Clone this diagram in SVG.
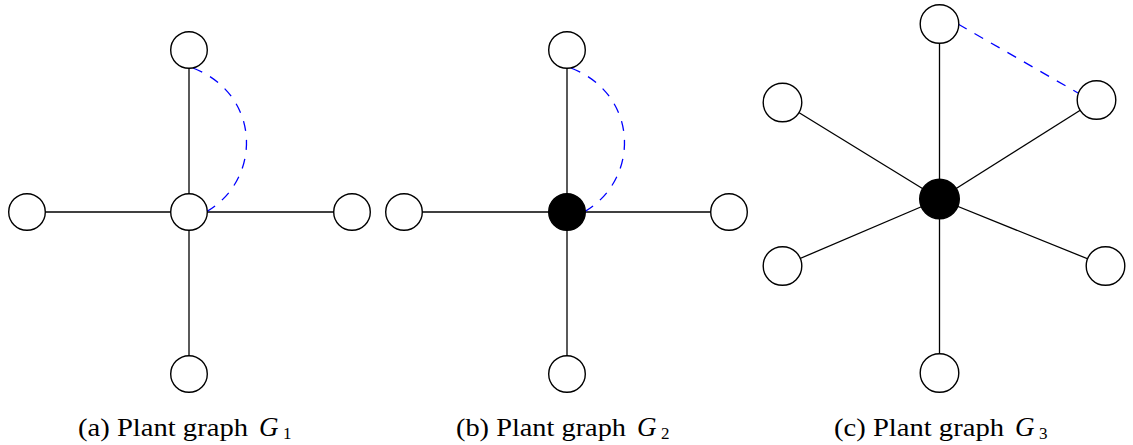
<svg xmlns="http://www.w3.org/2000/svg" width="1133" height="445" viewBox="0 0 1133 445">
<style>
.edge{stroke:#000;stroke-width:1.3;fill:none}
.dash{stroke:#0000ff;stroke-width:1.3;fill:none;stroke-dasharray:10 9}
.node{fill:#fff;stroke:#000;stroke-width:1.4}
.hub{fill:#000;stroke:#000;stroke-width:1.4}
.cap{font-family:"Liberation Serif",serif;font-size:26px;fill:#000}
.it{font-style:italic;font-size:27px}
.sub{font-size:17px}
</style>
<g id="connectors">
  <!-- (a) -->
  <line class="edge" x1="189" y1="50" x2="189" y2="374"/>
  <line class="edge" x1="27" y1="212" x2="352" y2="212"/>
  <path class="dash" d="M193,68 C262,95 262,180 206,212"/>
  <!-- (b) -->
  <line class="edge" x1="567" y1="50" x2="567" y2="374"/>
  <line class="edge" x1="404" y1="212" x2="729" y2="212"/>
  <path class="dash" d="M571,68 C640,95 640,180 584,212"/>
  <!-- (c) -->
  <line class="edge" x1="939.5" y1="24" x2="939.5" y2="373"/>
  <line class="edge" x1="939.5" y1="199" x2="782.5" y2="102.5"/>
  <line class="edge" x1="939.5" y1="199" x2="1096.5" y2="100"/>
  <line class="edge" x1="939.5" y1="199" x2="782.5" y2="266"/>
  <line class="edge" x1="939.5" y1="199" x2="1105.5" y2="266"/>
  <path class="dash" d="M958,24 L1078,93"/>
</g>
<g id="graph-a">
  <circle id="a-top" class="node" cx="189" cy="50" r="18.3"/>
  <circle id="a-left" class="node" cx="27" cy="212" r="18.3"/>
  <circle id="a-center" class="node" cx="189" cy="212" r="18.3"/>
  <circle id="a-right" class="node" cx="352" cy="212" r="18.3"/>
  <circle id="a-bottom" class="node" cx="189" cy="374" r="18.3"/>
</g>
<g id="graph-b">
  <circle id="b-top" class="node" cx="567" cy="50" r="18.3"/>
  <circle id="b-left" class="node" cx="404" cy="212" r="18.3"/>
  <circle id="b-center" class="hub" cx="567" cy="212" r="18.3"/>
  <circle id="b-right" class="node" cx="729" cy="212" r="18.3"/>
  <circle id="b-bottom" class="node" cx="567" cy="374" r="18.3"/>
</g>
<g id="graph-c">
  <circle id="c-top" class="node" cx="939.5" cy="24" r="19.3"/>
  <circle id="c-ul" class="node" cx="782.5" cy="102.5" r="19.3"/>
  <circle id="c-ur" class="node" cx="1096.5" cy="100" r="19.3"/>
  <circle id="c-center" class="hub" cx="939.5" cy="199" r="19.8"/>
  <circle id="c-ll" class="node" cx="782.5" cy="266" r="19.3"/>
  <circle id="c-lr" class="node" cx="1105.5" cy="266" r="19.3"/>
  <circle id="c-bottom" class="node" cx="939.5" cy="373" r="19.3"/>
</g>
<g id="captions">
  <text class="cap" x="78" y="436" textLength="170" lengthAdjust="spacingAndGlyphs">(a) Plant graph</text>
  <text class="cap it" x="259" y="436">G</text>
  <text class="cap sub" x="283" y="439">1</text>
  <text class="cap" x="456" y="436" textLength="170" lengthAdjust="spacingAndGlyphs">(b) Plant graph</text>
  <text class="cap it" x="637" y="436">G</text>
  <text class="cap sub" x="661" y="439">2</text>
  <text class="cap" x="834" y="436" textLength="170" lengthAdjust="spacingAndGlyphs">(c) Plant graph</text>
  <text class="cap it" x="1015" y="436">G</text>
  <text class="cap sub" x="1039" y="439">3</text>
</g>
</svg>
